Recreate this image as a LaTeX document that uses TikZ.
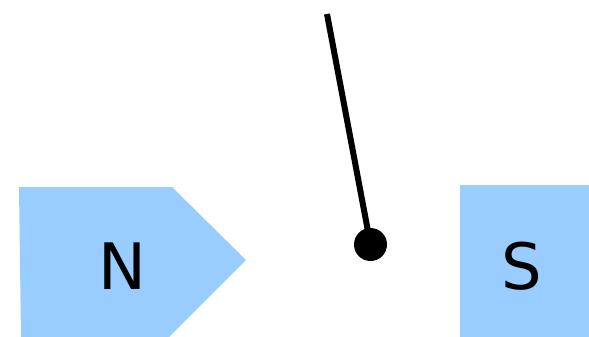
\documentclass[tikz,border=0pt]{standalone}
\usepackage{fontspec}
\setmainfont{DejaVu Sans}
\definecolor{magblue}{HTML}{99CCFF}
\begin{document}
\begin{tikzpicture}[x=1pt,y=-1pt,
  pole/.style={fill=magblue,draw=none},
  lbl/.style={font=\fontsize{64}{64}\selectfont,text=black,inner sep=0pt},
  needle/.style={line width=6pt,black}]
\useasboundingbox (0,0) rectangle (589,337);
\path[pole] (19,187) -- (172,187) -- (246,260) -- (169,337) -- (21,337) -- cycle;
\path[pole] (460,185) rectangle (589,337);
\node[lbl] (N) at (122,266) {N};
\node[lbl] (S) at (522,266) {S};
\coordinate (top) at (327,14);
\node[circle,fill=black,minimum size=33pt,inner sep=0pt] (pivot) at (370.5,244.5) {};
\draw[needle] (top) -- (pivot.center);
\end{tikzpicture}
\end{document}
